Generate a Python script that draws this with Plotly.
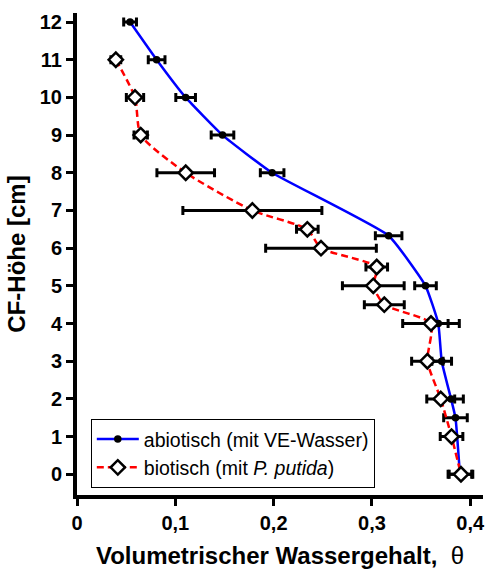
import plotly.graph_objects as go

# Volumetric water content profiles along the capillary fringe (CF)
hoehe_abiotisch = [12, 11, 10, 9, 8, 6.33, 5, 4, 3, 2, 1.5, 0]
theta_abiotisch = [0.054, 0.081, 0.1105, 0.148, 0.1985, 0.317, 0.3545, 0.3675, 0.371, 0.3805, 0.385, 0.3895]
fehler_abiotisch = [0.0065, 0.0085, 0.010, 0.0115, 0.012, 0.0135, 0.011, 0.010, 0.010, 0.0125, 0.012, 0.012]

hoehe_biotisch = [11, 10, 9, 8, 7, 6.5, 6, 5.5, 5, 4.5, 4, 3, 2, 1, 0]
theta_biotisch = [0.0395, 0.059, 0.0648, 0.1106, 0.1784, 0.2343, 0.2482, 0.3049, 0.3014, 0.3126, 0.3601, 0.3564, 0.370, 0.381, 0.3906]
fehler_biotisch = [0.005, 0.0088, 0.0068, 0.0293, 0.0707, 0.011, 0.0563, 0.011, 0.0314, 0.0203, 0.0288, 0.016, 0.0142, 0.0115, 0.012]

x_ticks = [0, 0.1, 0.2, 0.3, 0.4]
x_ticktext = ["0", "0,1", "0,2", "0,3", "0,4"]
y_ticks = list(range(0, 13))

FONT = "Liberation Sans, Arial, sans-serif"

fig = go.Figure()

fig.add_trace(go.Scatter(
    x=theta_abiotisch, y=hoehe_abiotisch,
    mode="lines+markers",
    name="abiotisch (mit VE-Wasser)",
    line=dict(color="#0000ff", width=2.5, shape="spline", smoothing=0.4),
    marker=dict(symbol="circle", size=7.5, color="black"),
    error_x=dict(type="data", array=fehler_abiotisch, color="black", thickness=3, width=4.5),
))

fig.add_trace(go.Scatter(
    x=theta_biotisch, y=hoehe_biotisch,
    mode="lines+markers",
    name="biotisch (mit <i>P. putida</i>)",
    line=dict(color="#ff0000", width=2.5, dash="7px,4px", shape="spline", smoothing=0.6),
    marker=dict(symbol="diamond", size=11, color="white", line=dict(color="black", width=2.5)),
    error_x=dict(type="data", array=fehler_biotisch, color="black", thickness=3, width=4.5),
))

fig.update_layout(
    width=487, height=572,
    margin=dict(l=77, r=4, t=13, b=77, autoexpand=False),
    paper_bgcolor="white", plot_bgcolor="white",
    font=dict(family=FONT, color="black"),
    showlegend=True,
    legend=dict(
        x=0.034, y=0.158, xanchor="left", yanchor="top",
        bgcolor="white", bordercolor="black", borderwidth=1,
        font=dict(family=FONT, size=19.5, color="black"),
        itemwidth=42, tracegroupgap=0,
    ),
)

fig.update_xaxes(
    range=[0, 0.413], tickvals=x_ticks, ticktext=x_ticktext,
    showgrid=False, zeroline=False,
    showline=True, linecolor="black", linewidth=4,
    ticks="outside", ticklen=7, tickwidth=3, tickcolor="black",
    tickfont=dict(family=FONT, size=20, weight="bold"),
    title=dict(text="Volumetrischer Wassergehalt,  <span style='font-weight:normal'>θ</span>",
               font=dict(family=FONT, size=24, weight="bold"), standoff=15),
    automargin=False,
)

fig.update_yaxes(
    range=[-0.55, 12.24], tickvals=y_ticks,
    showgrid=False, zeroline=False,
    showline=True, linecolor="black", linewidth=4,
    ticks="outside", ticklen=7, tickwidth=3, tickcolor="black",
    tickfont=dict(family=FONT, size=20, weight="bold"),
    title=dict(text="CF-Höhe [cm]", font=dict(family=FONT, size=24, weight="bold"), standoff=8),
    automargin=False,
)

fig.write_html("out.html")
